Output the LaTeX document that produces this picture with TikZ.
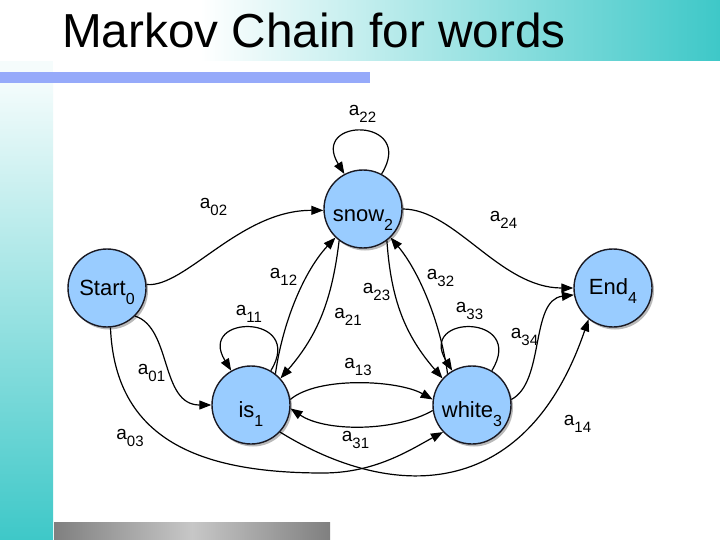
\documentclass[tikz,border=0pt]{standalone}
\usepackage{fontspec}
\setmainfont{Liberation Sans}
\usetikzlibrary{arrows.meta,shadows}
\definecolor{tealc}{RGB}{62,200,200}
\definecolor{barblue}{RGB}{150,170,250}
\definecolor{nodeblue}{RGB}{153,204,255}
\definecolor{nodeborder}{RGB}{25,25,35}
\newcommand{\elab}[1]{{\fontsize{19}{19}\selectfont a\raisebox{-7pt}{\fontsize{15}{15}\selectfont #1}}}
\newcommand{\stlab}[3]{\raisebox{#3}[11pt][11pt]{\fontsize{22}{22}\selectfont #1\raisebox{-9pt}{\fontsize{16}{16}\selectfont #2}}}
\begin{document}
\begin{tikzpicture}[x=1pt,y=-1pt,
  state/.style={circle, draw=nodeborder, line width=1.4pt, fill=nodeblue, minimum size=78pt, inner sep=0pt,
    drop shadow={shadow xshift=2pt, shadow yshift=-2.5pt, opacity=0.55}},
  edge/.style={line width=1.2pt, -{Triangle[length=12pt,width=9pt]}},
  elabel/.style={inner sep=0pt}]
\useasboundingbox (0,0) rectangle (720,540);
% background
\fill[white] (0,0) rectangle (720,540);
\shade[left color=white, right color=tealc] (200,0) rectangle (720,61);
\fill[white!95!tealc] (0,61) rectangle (53,72);
\shade[top color=white!94!tealc, bottom color=tealc] (0,83) rectangle (53,540);
\fill[barblue] (0,72) rectangle (370,83);
\shade[left color=black!50, right color=black!50, middle color=black!22] (54,522) rectangle (330,540);
% title
\node[anchor=base west, inner sep=0pt, font=\fontsize{47.7}{48}\selectfont] (title) at (62,48) {Markov Chain for words};
% states
\node[state] (n0) at (107,288) {\stlab{Start}{0}{-7pt}};
\node[state] (n2) at (363,209) {\stlab{snow}{2}{-12.5pt}};
\node[state] (n4) at (613,288) {\stlab{End}{4}{-6pt}};
\node[state] (n1) at (251,405) {\stlab{is}{1}{-12.5pt}};
\node[state] (n3) at (472,405) {\stlab{white}{3}{-12pt}};
% edges
\draw[edge] (n0.5) .. controls (185,288) and (240,210) .. (n2.182);
\draw[edge] (n2.0) .. controls (455,209) and (500,288) .. (n4.180);
\draw[edge] (n0.-45) .. controls (172,328) and (160,405) .. (n1.180);
\draw[edge] (n0.-85) .. controls (115,440) and (200,473) .. (323,473)
                     .. controls (375,473) and (410,450) .. (n3.-137);
\draw[edge] (n1.-43) .. controls (390,500) and (525,505) .. (n4.-128);
\draw[edge] (n3.8) .. controls (545,382) and (530,300) .. (n4.-170);
\draw[edge] (n1.52) .. controls (283,320) and (305,270) .. (n2.-134);
\draw[edge] (n2.-127) .. controls (332,300) and (318,335) .. (n1.42);
\draw[edge] (n3.128) .. controls (440,320) and (418,270) .. (n2.-46);
\draw[edge] (n2.-53) .. controls (391,300) and (405,335) .. (n3.138);
\draw[edge] (n1.8) .. controls (318,376) and (398,380) .. (n3.172);
\draw[edge] (n3.-172) .. controls (395,432) and (325,432) .. (n1.-5);
\draw[edge] (n1.60) .. controls +(35,-57) and +(-35,-57) .. (n1.120);
\draw[edge] (n2.62) .. controls +(35,-57) and +(-35,-57) .. (n2.118);
\draw[edge] (n3.60) .. controls +(35,-57) and +(-35,-57) .. (n3.120);
% labels
\node[elabel] (l02) at (213.5,207) {\elab{02}};
\node[elabel] (l24) at (503.5,220) {\elab{24}};
\node[elabel] (l22) at (362.5,113.5) {\elab{22}};
\node[elabel] (l12) at (283.5,277) {\elab{12}};
\node[elabel] (l11) at (249,314) {\elab{11}};
\node[elabel] (l21) at (348,317) {\elab{21}};
\node[elabel] (l23) at (376.5,291.5) {\elab{23}};
\node[elabel] (l32) at (440.5,277.5) {\elab{32}};
\node[elabel] (l33) at (469.5,310.5) {\elab{33}};
\node[elabel] (l34) at (524.5,336.5) {\elab{34}};
\node[elabel] (l14) at (577.5,424) {\elab{14}};
\node[elabel] (l01) at (151.5,373) {\elab{01}};
\node[elabel] (l03) at (130,437.5) {\elab{03}};
\node[elabel] (l13) at (358,367) {\elab{13}};
\node[elabel] (l31) at (355.5,440) {\elab{31}};
\end{tikzpicture}
\end{document}
